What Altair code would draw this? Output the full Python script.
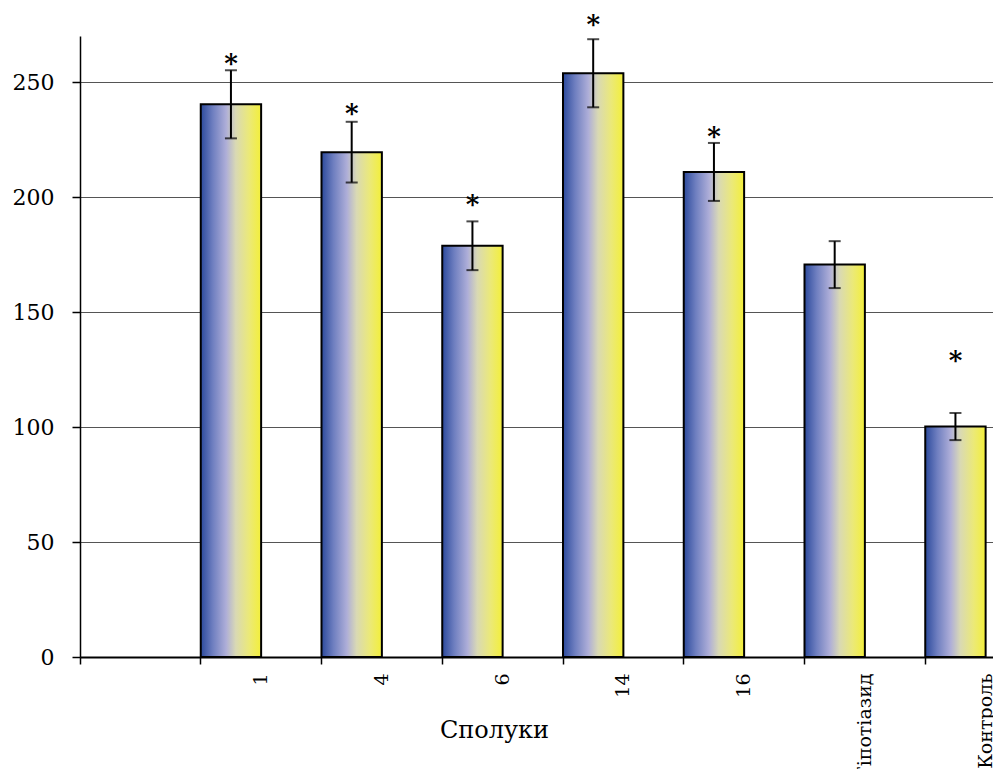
import altair as alt
import pandas as pd

# ---- data ----
categories = ["1", "4", "6", "14", "16", "Гіпотіазид", "Контроль"]
means = [240.3, 219.5, 178.8, 253.8, 210.9, 170.6, 100.2]
errors = [14.8, 13.2, 10.6, 14.8, 12.6, 10.2, 5.9]
star_levels = [257.8, 236.3, 196.7, 275.0, 225.9, None, 128.9]
axis_categories = [" "] + categories
y_tick_values = [0, 50, 100, 150, 200, 250]
series_slots = ["a", "b"]

df = pd.DataFrame({
    "cat": categories,
    "mean": means,
    "err": errors,
    "star": star_levels,
    "series": ["a"] * len(categories),
})
df["lo"] = df["mean"] - df["err"]
df["hi"] = df["mean"] + df["err"]

FONT = "DejaVu Serif"
BAND = 120.75
X_RANGE = BAND * len(axis_categories)

x_axis = alt.Axis(
    bandPosition=0,
    labelAngle=270,
    labelAlign="right",
    labelBaseline="middle",
    labelPadding=9,
    labelFont=FONT,
    labelFontSize=19,
    labelColor="black",
    labelOverlap=False,
    tickSize=7,
    tickColor="black",
    tickWidth=1.5,
    domainColor="black",
    domainWidth=2,
    title="Сполуки",
    titleFont=FONT,
    titleFontSize=24,
    titleFontWeight="normal",
    titleColor="black",
    titleX=414,
    titleY=73,
    titleAlign="center",
    titleBaseline="middle",
    grid=False,
)

y_axis = alt.Axis(
    values=y_tick_values,
    labelFont=FONT,
    labelFontSize=22,
    labelColor="black",
    labelPadding=18,
    tickSize=8,
    tickColor="black",
    tickWidth=1.5,
    domainColor="black",
    domainWidth=1.5,
    grid=True,
    gridColor="#555555",
    gridWidth=1,
    title=None,
)

x_enc = alt.X(
    "cat:N",
    sort=None,
    scale=alt.Scale(domain=axis_categories, range=[0, X_RANGE], paddingInner=0, paddingOuter=0),
    axis=x_axis,
)
xo_enc = alt.XOffset(
    "series:N",
    scale=alt.Scale(domain=series_slots, paddingInner=0, paddingOuter=0),
)
y_scale = alt.Scale(domain=[0, 270], nice=False, zero=True)


def yq(field):
    return alt.Y(field + ":Q", scale=y_scale, axis=y_axis, title=None)


gradient = alt.LinearGradient(
    gradient="linear",
    stops=[
        alt.GradientStop(color="#2c4a9c", offset=0),
        alt.GradientStop(color="#6f7fc0", offset=0.2),
        alt.GradientStop(color="#aeaed8", offset=0.42),
        alt.GradientStop(color="#d9d9b4", offset=0.58),
        alt.GradientStop(color="#ebe978", offset=0.8),
        alt.GradientStop(color="#f3ef3a", offset=1),
    ],
    x1=0, x2=1, y1=0, y2=0,
)

base = alt.Chart(df)

bars = base.mark_bar(color=gradient, stroke="black", strokeWidth=2).encode(
    x=x_enc, xOffset=xo_enc, y=yq("mean")
)

err_line = base.mark_rule(color="black", strokeWidth=2).encode(
    x=x_enc, xOffset=xo_enc, y=yq("lo"), y2="hi:Q"
)

caps = base.transform_fold(["lo", "hi"], as_=["end", "val"]).mark_tick(
    color="black", thickness=2, size=12, orient="horizontal"
).encode(x=x_enc, xOffset=xo_enc, y=yq("val"))

stars = base.transform_filter("isValid(datum.star)").mark_text(
    text="*", font=FONT, fontSize=26, fontWeight="bold", baseline="middle", color="black"
).encode(x=x_enc, xOffset=xo_enc, y=yq("star"))

chart = alt.layer(bars, err_line, caps, stars).properties(
    width=913,
    height=621,
    autosize=alt.AutoSizeParams(type="none"),
    padding={"left": 72, "top": 28, "right": 0, "bottom": 112},
    background="white",
).configure_view(stroke=None)

chart.save("out.html", embed_options={"renderer": "svg", "actions": False})
